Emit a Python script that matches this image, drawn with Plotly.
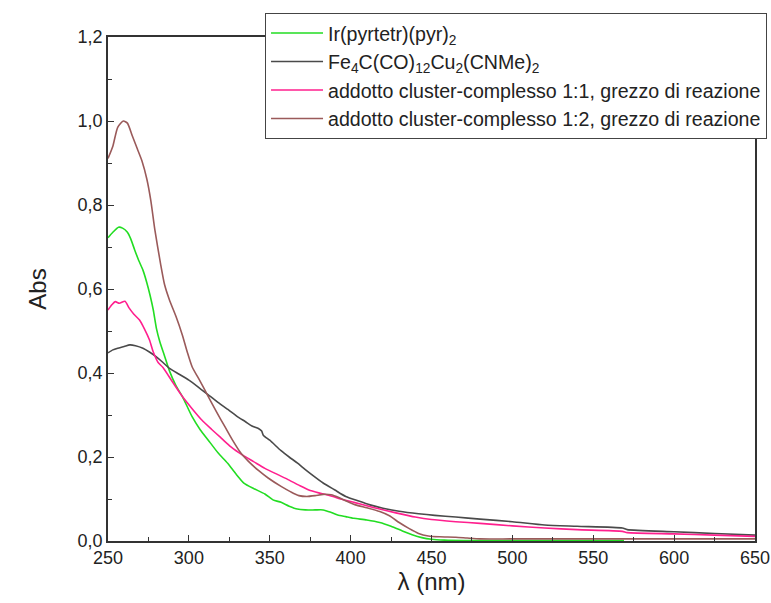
import plotly.graph_objects as go

# ---------------- data ----------------
names = [
    "Ir(pyrtetr)(pyr)<sub>2</sub>",
    "Fe<sub>4</sub>C(CO)<sub>12</sub>Cu<sub>2</sub>(CNMe)<sub>2</sub>",
    "addotto cluster-complesso 1:1, grezzo di reazione",
    "addotto cluster-complesso 1:2, grezzo di reazione",
]

green_x = [250, 253, 256.5, 259, 262, 264, 266.5, 269, 271.6, 274, 276, 278, 280, 282, 285, 288, 292, 296,
           302, 307, 312, 318, 324, 329, 334, 340, 347, 352, 357, 362, 367, 372, 378, 383, 388, 392, 397,
           402, 410, 418, 425, 432, 438, 444, 450, 458, 470, 520, 569]
green_y = [0.722, 0.735, 0.747, 0.745, 0.735, 0.72, 0.693, 0.668, 0.645, 0.615, 0.585, 0.55, 0.505, 0.475,
           0.44, 0.405, 0.37, 0.344, 0.296, 0.265, 0.240, 0.21, 0.185, 0.16, 0.138, 0.125, 0.112, 0.098,
           0.092, 0.083, 0.076, 0.074, 0.074, 0.074, 0.068, 0.062, 0.058, 0.054, 0.05, 0.044, 0.035, 0.024,
           0.015, 0.008, 0.004, 0.002, 0.001, 0.001, 0.001]

gray_x = [250, 253, 256, 260, 263.5, 267, 271.6, 275.6, 279.7, 284, 288, 294, 300, 306, 312, 318, 324.5,
          330, 335, 339, 343, 345, 346, 350, 357, 362, 367, 372, 377, 383, 390, 397, 405, 412, 420, 430,
          442, 452, 465, 480, 500, 520, 540, 568, 571, 600, 625, 650]
gray_y = [0.448, 0.455, 0.459, 0.463, 0.467, 0.465, 0.459, 0.45, 0.439, 0.425, 0.411, 0.397, 0.383, 0.366,
          0.348, 0.33, 0.312, 0.296, 0.284, 0.274, 0.268, 0.262, 0.252, 0.240, 0.215, 0.2, 0.186, 0.17,
          0.155, 0.138, 0.122, 0.106, 0.095, 0.086, 0.078, 0.071, 0.065, 0.061, 0.057, 0.052, 0.046,
          0.038, 0.035, 0.031, 0.027, 0.022, 0.018, 0.014]

pink_x = [250, 252.5, 254.5, 257, 260.5, 263, 266, 269.5, 272.5, 275.6, 278, 281, 284, 290, 296, 302, 308,
          314, 320, 326, 333, 340, 347, 355, 362, 368, 375, 382, 388, 395, 402, 410, 418, 428, 440, 450,
          465, 480, 500, 520, 540, 568, 571, 600, 625, 650]
pink_y = [0.55, 0.563, 0.57, 0.566, 0.571, 0.555, 0.54, 0.526, 0.505, 0.479, 0.45, 0.425, 0.413, 0.378,
          0.344, 0.315, 0.288, 0.266, 0.245, 0.224, 0.205, 0.189, 0.173, 0.158, 0.145, 0.133, 0.12, 0.113,
          0.107, 0.099, 0.092, 0.084, 0.076, 0.067, 0.057, 0.051, 0.046, 0.042, 0.036, 0.031, 0.027,
          0.023, 0.020, 0.017, 0.014, 0.011]

brown_x = [250, 253, 256, 259.5, 262, 265, 268, 271, 274, 276.5, 279, 282.5, 285, 288, 292, 296, 299, 302,
           307, 312, 317, 322, 327, 332, 337, 343, 349, 357, 363, 368, 373, 378, 383, 388, 393, 398, 403,
           410, 418, 424, 430, 436, 442, 448, 455, 465, 472, 480, 500, 550, 600, 650]
brown_y = [0.911, 0.94, 0.985, 1.0, 0.995, 0.965, 0.935, 0.905, 0.862, 0.81, 0.74, 0.66, 0.61, 0.574,
           0.535, 0.49, 0.45, 0.415, 0.38, 0.344, 0.308, 0.274, 0.24, 0.21, 0.189, 0.168, 0.15, 0.13, 0.117,
           0.108, 0.106, 0.108, 0.111, 0.11, 0.103, 0.094, 0.086, 0.079, 0.07, 0.06, 0.044, 0.03, 0.018,
           0.012, 0.010, 0.009, 0.007, 0.005, 0.005, 0.005, 0.005, 0.005]

colors = ["#22dd22", "#4a4a4a", "#ff1f8e", "#9a5a5a"]

series = [(green_x, green_y), (gray_x, gray_y), (pink_x, pink_y), (brown_x, brown_y)]

# ---------------- figure ----------------
fig = go.Figure()
for (xs, ys), nm, c in zip(series, names, colors):
    fig.add_trace(go.Scatter(x=xs, y=ys, mode="lines", name=nm,
                             line=dict(color=c, width=1.6, shape="spline", smoothing=0.6)))

font_family = "Arial, Liberation Sans, sans-serif"
fig.update_layout(
    width=771, height=603,
    margin=dict(l=108, r=16, t=37, b=62, autoexpand=False),
    paper_bgcolor="white", plot_bgcolor="white",
    separators=",.",
    font=dict(family=font_family, size=18, color="#222222"),
    showlegend=True,
    legend=dict(x=0.2427, y=1.048, xanchor="left", yanchor="top",
                bgcolor="white", bordercolor="#444444", borderwidth=1,
                font=dict(family=font_family, size=19.6, color="#222222"),
                tracegroupgap=0, itemwidth=52),
)
fig.update_xaxes(range=[250, 650.001], tick0=250, dtick=50, ticks="inside", ticklen=6, tickwidth=1,
                 tickcolor="#333333", showline=True, linecolor="#333333", linewidth=1.5, mirror=True,
                 showgrid=False, zeroline=False, ticklabeloverflow="allow",
                 minor=dict(dtick=25, ticks="inside", ticklen=4, tickcolor="#333333"),
                 title=dict(text="λ (nm)", font=dict(size=24), standoff=6))
fig.update_yaxes(range=[0, 1.2], tick0=0, dtick=0.2, tickformat=".1f", ticks="inside", ticklen=6,
                 tickwidth=1, tickcolor="#333333", showline=True, linecolor="#333333", linewidth=1.5,
                 mirror=True, showgrid=False, zeroline=False,
                 minor=dict(dtick=0.1, ticks="inside", ticklen=4, tickcolor="#333333"),
                 title=dict(text="Abs", font=dict(size=24), standoff=24))

fig.write_html("out.html")
